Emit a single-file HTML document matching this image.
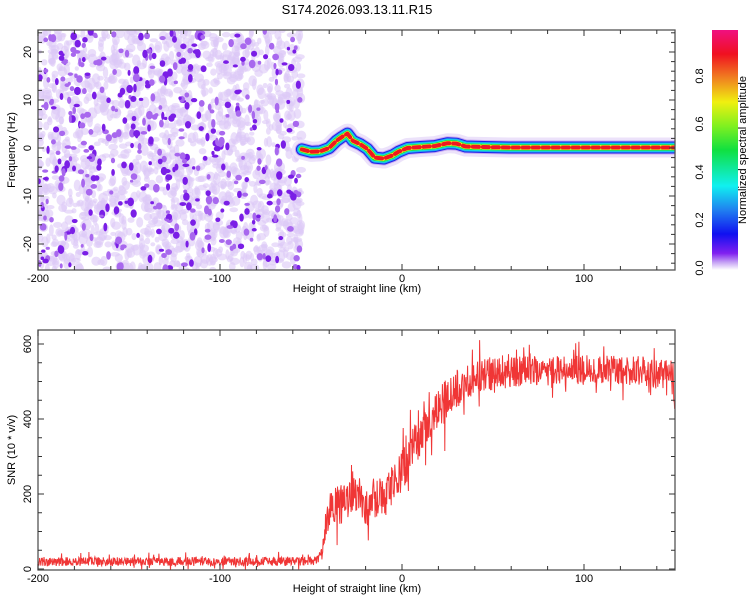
<!DOCTYPE html>
<html><head><meta charset="utf-8">
<style>
body{margin:0;background:#fff;font-family:"Liberation Sans",sans-serif;}
svg text{font-family:"Liberation Sans",sans-serif;font-size:11px;fill:#000;}
</style></head>
<body>
<svg id="c" width="750" height="600" xmlns="http://www.w3.org/2000/svg">
<defs>
<linearGradient id="cb" x1="0" y1="1" x2="0" y2="0">
<stop offset="0" stop-color="#ffffff"/>
<stop offset="0.03" stop-color="#c9a8f5"/>
<stop offset="0.07" stop-color="#8020f0"/>
<stop offset="0.15" stop-color="#1010f0"/>
<stop offset="0.25" stop-color="#2080f0"/>
<stop offset="0.35" stop-color="#10f0f0"/>
<stop offset="0.5" stop-color="#10e040"/>
<stop offset="0.6" stop-color="#80f020"/>
<stop offset="0.7" stop-color="#f0f010"/>
<stop offset="0.8" stop-color="#f08020"/>
<stop offset="0.9" stop-color="#f01020"/>
<stop offset="1" stop-color="#f01080"/>
</linearGradient>
<clipPath id="clipTop"><rect x="38" y="30" width="637" height="240"/></clipPath>
<clipPath id="clipBot"><rect x="38" y="330" width="637" height="240"/></clipPath>
</defs>
<text x="357" y="14" text-anchor="middle" style="font-size:13px">S174.2026.093.13.11.R15</text>
<g id="topG" clip-path="url(#clipTop)"></g>
<g id="botG" clip-path="url(#clipBot)"></g>
<g id="axes"></g>
<rect x="712" y="30" width="26" height="240" fill="url(#cb)"/>
</svg>
<script>
// ---- data ----
const xTicks = [-200, -100, 0, 100];
const freqTicks = [-20, -10, 0, 10, 20];
const snrTicks = [0, 200, 400, 600];
const cbTicks = [0.0, 0.2, 0.4, 0.6, 0.8];
const ridgeKm = [-55, -50, -45, -40, -36, -33, -30, -27, -23, -19, -15, -10, -5, -2, 3, 10, 18, 25, 30, 35, 45, 60, 100, 150];
const ridgeHz = [-0.3, -0.8, -0.7, 0, 1.5, 2.3, 3.0, 1.5, 0.8, -0.2, -2.0, -2.2, -1.5, -0.8, 0, 0.2, 0.4, 1.0, 0.9, 0.3, 0.2, 0.1, 0.1, 0.1];
const snrKm = [-200,-150,-100,-60,-47,-44,-42,-40,-37,-34,-31,-28,-25,-22,-19,-16,-13,-10,-7,-4,-1,2,5,8,11,14,17,20,23,26,30,35,40,50,60,70,80,90,100,110,120,130,140,148,150];
const snrVal = [20,20,20,20,22,40,110,160,175,170,175,200,215,170,160,185,195,180,210,230,250,280,310,340,360,390,410,430,440,460,480,500,515,520,525,530,525,530,530,530,530,530,520,525,430];
const snrNoise = [12,12,12,12,12,15,40,45,50,50,50,55,60,55,55,55,55,55,55,55,55,55,55,55,55,60,60,60,60,55,55,50,50,45,40,40,40,40,40,40,40,40,40,40,40];

// ---- scales ----
const X = k => 38 + (k + 200) * 637 / 350;
const YF = f => 148 - f * 4.8;
const YS = s => 569 - s * 0.375;
const NS = "http://www.w3.org/2000/svg";
function mk(tag, attrs, parent){const e=document.createElementNS(NS,tag);for(const k in attrs)e.setAttribute(k,attrs[k]);parent.appendChild(e);return e;}
let seedState = 12345;
function rnd(){seedState|=0;seedState=seedState+0x6D2B79F5|0;let t=Math.imul(seedState^seedState>>>15,1|seedState);t=t+Math.imul(t^t>>>7,61|t)^t;return((t^t>>>14)>>>0)/4294967296;}
function interp(xs, ys, x){for(let i=0;i<xs.length-1;i++){if(x<=xs[i+1]){const t=(x-xs[i])/(xs[i+1]-xs[i]);return ys[i]+t*(ys[i+1]-ys[i]);}}return ys[ys.length-1];}

const topG = document.getElementById('topG');
const botG = document.getElementById('botG');
const axes = document.getElementById('axes');

// noise speckles (texture)
for(let i=0;i<1500;i++){
  const x = 38 + rnd()*(X(-55)-38);
  const y = 30 + rnd()*240;
  const e = mk('ellipse',{cx:x,cy:y,rx:2+rnd()*3,ry:2+rnd()*4,fill:'#dcc8f7','fill-opacity':0.6},topG);
  
  
}
for(let i=0;i<450;i++){
  const x = 38 + rnd()*(X(-56)-38);
  const y = 30 + rnd()*240;
  const e = mk('ellipse',{cx:x,cy:y,rx:1.5+rnd()*2,ry:1.5+rnd()*3,fill:rnd()<0.5?'#7a1ee6':'#a868ee'},topG);
  
  
}
// ridge
const pts = ridgeKm.map((k,i)=>X(k)+','+YF(ridgeHz[i])).join(' ');
const layers = [['#ece2fa',20,null],['#c8a8f2',14,null],['#2020e8',12,null],['#20a0f0',10,null],['#10e8e8',8,null],['#20e040',6.5,null],['#f0f020',5,'7 3'],['#f01820',4,'6 4']];
layers.forEach(l=>{
  const a={points:pts,fill:'none',stroke:l[0],'stroke-width':l[1],'stroke-linejoin':'round','stroke-linecap':'round'};
  if(l[2])a['stroke-dasharray']=l[2];
  const e=mk('polyline',a,topG);
  
  
});

// SNR trace
let d='';
for(let k=-200;k<=150;k+=0.22){
  const base=interp(snrKm,snrVal,k), n=interp(snrKm,snrNoise,k);
  let v=base+(rnd()-0.5)*n*2.0;
  if(rnd()<0.07)v+=n*(rnd()<0.65?1.3:-1.2);
  d+=(d?'L':'M')+X(k).toFixed(1)+' '+YS(v).toFixed(1);
}
const tr=mk('path',{d:d,fill:'none',stroke:'#ee2020','stroke-width':1,'stroke-opacity':0.9},botG);



// frames and ticks
function frame(y0,h,name){
  const r=mk('rect',{x:38,y:y0,width:637,height:h,fill:'none',stroke:'#555','stroke-width':1.3},axes);
  
  
}
frame(30,240,'top-plot-frame');
frame(330,240,'bottom-plot-frame');
[[30,270],[330,570]].forEach(([t,b],pi)=>{
  for(let k=-200;k<=150;k+=20){
    const big = k%100===0;
    mk('line',{x1:X(k),x2:X(k),y1:t,y2:t+(big?6:4),stroke:'#333'},axes);
    mk('line',{x1:X(k),x2:X(k),y1:b,y2:b-(big?6:4),stroke:'#333'},axes);
  }
  xTicks.forEach(k=>{
    const e=mk('text',{x:X(k),y:b+12,'text-anchor':'middle'},axes);e.textContent=k;
    
    
  });
  const xt=mk('text',{x:357,y:b+22,'text-anchor':'middle'},axes);xt.textContent='Height of straight line (km)';
  
  
});
for(let f=-24;f<=24;f+=2){const big=f%10===0;mk('line',{x1:38,x2:38+(big?6:4),y1:YF(f),y2:YF(f),stroke:'#333'},axes);mk('line',{x1:675,x2:675-(big?6:4),y1:YF(f),y2:YF(f),stroke:'#333'},axes);}
freqTicks.forEach(f=>{const y=YF(f);const e=mk('text',{x:31,y:y,'text-anchor':'middle',transform:'rotate(-90 31 '+y+')'},axes);e.textContent=f;
  
  });
for(let s=0;s<=620;s+=50){const big=s%200===0;mk('line',{x1:38,x2:38+(big?6:4),y1:YS(s),y2:YS(s),stroke:'#333'},axes);mk('line',{x1:675,x2:675-(big?6:4),y1:YS(s),y2:YS(s),stroke:'#333'},axes);}
snrTicks.forEach(s=>{const y=YS(s);const e=mk('text',{x:31,y:y,'text-anchor':'middle',transform:'rotate(-90 31 '+y+')'},axes);e.textContent=s;
  
  });
const yt1=mk('text',{x:15,y:150,'text-anchor':'middle',transform:'rotate(-90 15 150)'},axes);yt1.textContent='Frequency (Hz)';


const yt2=mk('text',{x:15,y:450,'text-anchor':'middle',transform:'rotate(-90 15 450)'},axes);yt2.textContent='SNR (10 * v/v)';


// colorbar
cbTicks.forEach(v=>{const y=268-v*240;const e=mk('text',{x:703,y:y,'text-anchor':'middle',transform:'rotate(-90 703 '+y+')'},axes);e.textContent=v.toFixed(1);
  
  });
const ct=mk('text',{x:746,y:150,'text-anchor':'middle',transform:'rotate(-90 746 150)'},axes);ct.textContent='Normalized spectral amplitude';


</script>
</body></html>
